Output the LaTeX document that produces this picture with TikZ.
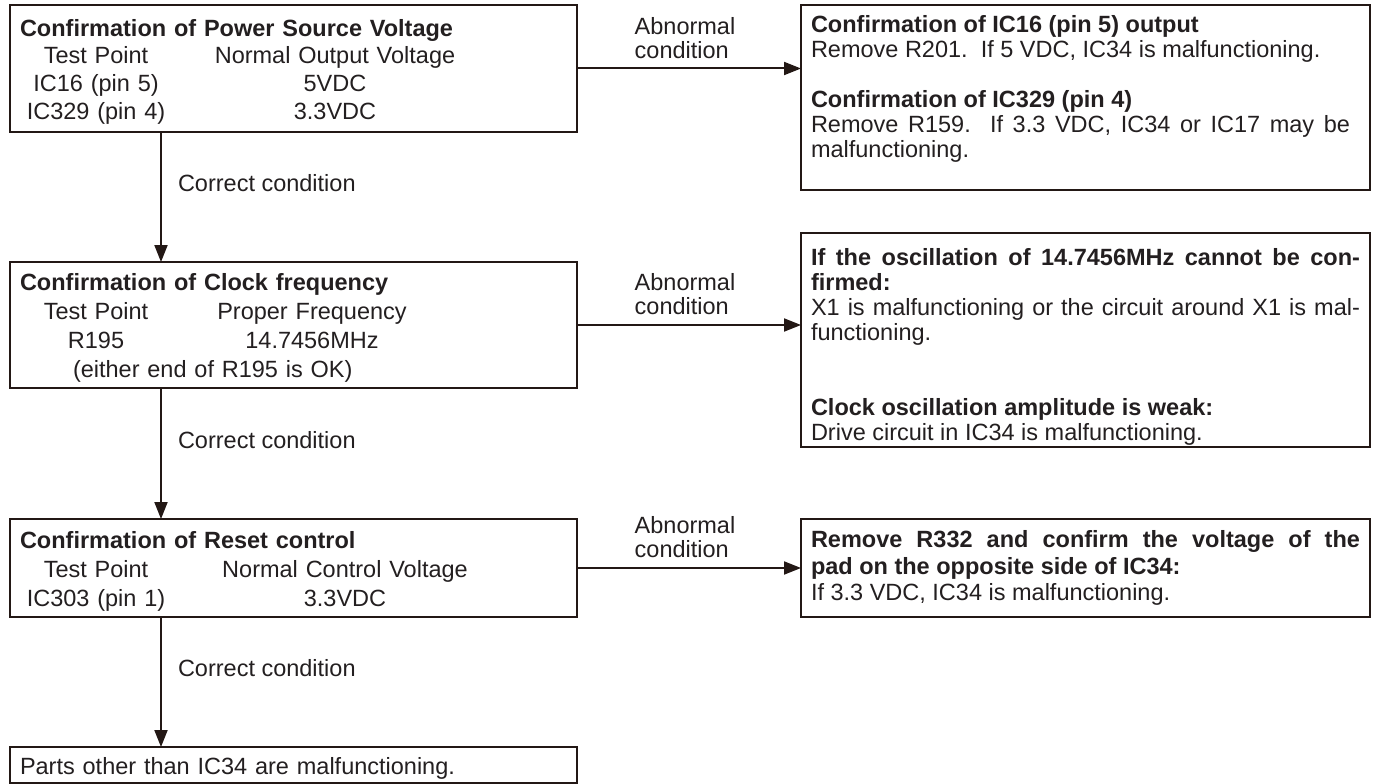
\documentclass[tikz,border=0pt]{standalone}
\usepackage{fontspec}
\setmainfont{Liberation Sans}
\usepackage{tikz}
\usetikzlibrary{arrows.meta, positioning}
\definecolor{inkline}{RGB}{35,24,21}
\definecolor{inktext}{RGB}{35,31,32}

\begin{document}
\begin{tikzpicture}[x=1pt, y=-1pt,
    leftbox/.style={draw=inkline, line width=2.2pt, anchor=north west, outer sep=0pt,
        inner xsep=10pt, inner ysep=0pt, text width=547pt, align=left, text=inktext,
        font=\fontsize{23.5}{29}\selectfont},
    rightbox/.style={draw=inkline, line width=2.2pt, anchor=north west, outer sep=0pt,
        inner xsep=10pt, inner ysep=0pt, text width=549pt, align=justify, text=inktext,
        font=\fontsize{23.5}{25}\selectfont},
    flowarrow/.style={-{Triangle[length=17pt, width=13pt]}, line width=2pt, draw=inkline},
    condlabel/.style={inner sep=0pt, text=inktext, align=left,
        font=\fontsize{23.5}{24}\selectfont}]
    \useasboundingbox (0,0) rectangle (1379,784);

    % Pruefschritte links
    \node[leftbox, minimum height=127pt, font=\fontsize{23.5}{27.7}\selectfont] (pwrbox) at (10,5)
        {\rule{0pt}{23.5pt}{\bfseries Confirmation of Power Source Voltage}\\
        \makebox[152pt]{Test Point}\makebox[326pt]{Normal Output Voltage}\\
        \makebox[152pt]{IC16 (pin 5)}\makebox[326pt]{5VDC}\\
        \makebox[152pt]{IC329 (pin 4)}\makebox[326pt]{3.3VDC}};
    \node[leftbox, minimum height=126pt] (clkbox) at (10,262)
        {\rule{0pt}{23.5pt}{\bfseries Confirmation of Clock frequency}\\
        \makebox[152pt]{Test Point}\makebox[280pt]{Proper Frequency}\\
        \makebox[152pt]{R195}\makebox[280pt]{14.7456MHz}\\
        \hspace*{53pt}(either end of R195 is OK)};
    \node[leftbox, minimum height=98pt] (rstbox) at (10,519)
        {\rule{0pt}{23.5pt}{\bfseries Confirmation of Reset control}\\
        \makebox[152pt]{Test Point}\makebox[346pt]{Normal Control Voltage}\\
        \makebox[152pt]{IC303 (pin 1)}\makebox[346pt]{3.3VDC}};
    \node[leftbox, minimum height=36pt] (partsbox) at (10,747)
        {\rule{0pt}{23.5pt}Parts other than IC34 are malfunctioning.};

    % Fehlerfaelle rechts
    \node[rightbox, minimum height=185pt] (pwrfail) at (801,5)
        {\rightskip=10pt\relax
        {\bfseries Confirmation of IC16 (pin 5) output}\\
        Remove R201.\ \ If 5 VDC, IC34 is malfunctioning.\\[25pt]
        {\bfseries Confirmation of IC329 (pin 4)}\\
        Remove R159.\ \ If 3.3 VDC, IC34 or IC17 may be\linebreak malfunctioning.\par\vspace{18pt}};
    \node[rightbox, minimum height=214pt] (clkfail) at (801,233)
        {\rightskip=10pt\relax
        \rule{0pt}{31pt}{\bfseries If the oscillation of 14.7456MHz cannot be con-\linebreak firmed:}\\
        X1 is malfunctioning or the circuit around X1 is mal-\linebreak functioning.\\[50pt]
        {\bfseries Clock oscillation amplitude is weak:}\\
        Drive circuit in IC34 is malfunctioning.};
    \node[rightbox, minimum height=98pt, font=\fontsize{23.5}{26.5}\selectfont] (rstfail) at (801,519)
        {\rightskip=10pt\relax
        {\bfseries Remove R332 and confirm the voltage of the\linebreak pad on the opposite side of IC34:}\\
        If 3.3 VDC, IC34 is malfunctioning.};

    % Verbindungen
    \coordinate (trunk) at (161,0);
    \draw[flowarrow] (pwrbox.south -| trunk) -- (clkbox.north -| trunk)
        node[condlabel, pos=0.39, right=16pt] {Correct condition};
    \draw[flowarrow] (clkbox.south -| trunk) -- (rstbox.north -| trunk)
        node[condlabel, pos=0.40, right=16pt] {Correct condition};
    \draw[flowarrow] (rstbox.south -| trunk) -- (partsbox.north -| trunk)
        node[condlabel, pos=0.39, right=16pt] {Correct condition};

    \draw[flowarrow] (pwrbox.east) -- (pwrbox.east -| pwrfail.west)
        node[condlabel, midway, above=9pt, xshift=-4pt] {Abnormal\\condition};
    \draw[flowarrow] (clkbox.east) -- (clkbox.east -| clkfail.west)
        node[condlabel, midway, above=9pt, xshift=-4pt] {Abnormal\\condition};
    \draw[flowarrow] (rstbox.east) -- (rstbox.east -| rstfail.west)
        node[condlabel, midway, above=9pt, xshift=-4pt] {Abnormal\\condition};
\end{tikzpicture}
\end{document}
